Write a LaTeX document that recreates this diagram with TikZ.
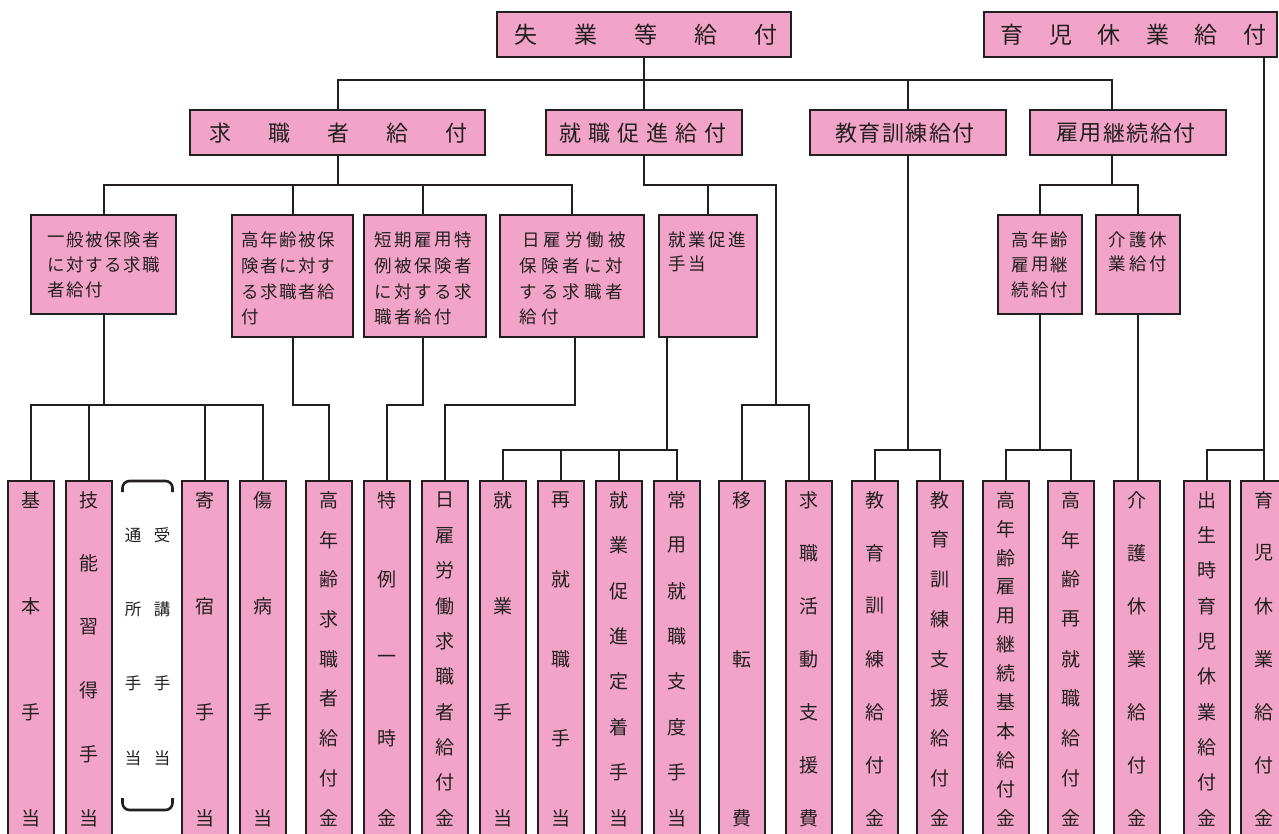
\documentclass[tikz,border=0pt]{standalone}
\usepackage{fontspec}
\setmainfont{Noto Sans CJK JP}
\usetikzlibrary{calc}
\definecolor{pk}{RGB}{242,163,200}
\definecolor{ln}{RGB}{35,31,32}
\tikzset{
 bx/.style={draw=ln,line width=2.4pt,fill=pk,inner sep=0pt,outer sep=0pt},
 cbx/.style={bx,minimum width=46pt,minimum height=364pt},
 conn/.style={draw=ln,line width=2pt},
 brk/.style={draw=ln,line width=2.6pt,rounded corners=7pt},
 t1/.style={inner sep=0pt,text=ln,font=\fontsize{23}{23}\selectfont},
 t2/.style={inner sep=0pt,text=ln,font=\fontsize{22}{22}\selectfont},
 t3/.style={inner sep=0pt,text=ln,font=\fontsize{17.5}{17.5}\selectfont},
 cch/.style={inner sep=0pt,text=ln,font=\fontsize{19}{19}\selectfont},
 bch/.style={inner sep=0pt,text=ln,font=\fontsize{16.5}{16.5}\selectfont},
}
\newcommand\mkbox[5]{\node[bx,minimum width=#4pt,minimum height=#5pt,anchor=north west] (#1) at (#2,#3) {};}
\newcommand\mkrow[6]{\foreach \c [count=\i from 0] in {#6} {\node[#2] (#1-\i) at ({#3+\i*#5},#4) {\c};}}
\newcommand\mkcol[4]{\node[cbx,anchor=north west] (#1) at (#2,481) {};\foreach \c [count=\i from 0] in {#4} {\node[cch] (#1-\i) at ({#2+23},{500+\i*318/(#3-1)}) {\c};}}
\begin{document}
\begin{tikzpicture}[x=1pt,y=-1pt]
\useasboundingbox (0,0) rectangle (1279,834);
% ---- boxes
\mkbox{sg}{497}{12}{294}{45}
\mkbox{ik}{984}{12}{293}{45}
\mkbox{kk}{190}{110}{295}{45}
\mkbox{ss}{546}{110}{196}{45}
\mkbox{kt}{810}{110}{196}{45}
\mkbox{kz}{1030}{110}{196}{45}
\mkbox{ip}{31}{215}{145}{99}
\mkbox{kn}{232}{215}{121}{122}
\mkbox{tk}{364}{215}{122}{122}
\mkbox{hy}{500}{215}{144}{122}
\mkbox{sk}{659}{215}{98}{122}
\mkbox{kk3}{998}{215}{84}{99}
\mkbox{kg}{1096}{215}{84}{99}
% ---- top / second row text
\mkrow{sgt}{t1}{526}{35}{60}{失,業,等,給,付}
\mkrow{ikt}{t1}{1012}{35}{48.5}{育,児,休,業,給,付}
\mkrow{kkt}{t2}{220}{133}{59}{求,職,者,給,付}
\mkrow{sst}{t2}{570}{133}{29}{就,職,促,進,給,付}
\mkrow{ktt}{t2}{846}{133}{23.5}{教,育,訓,練,給,付}
\mkrow{kzt}{t2}{1067}{133}{23.5}{雇,用,継,続,給,付}
% ---- third row text
\mkrow{ipa}{t3}{56.5}{240}{19}{一,般,被,保,険,者}
\mkrow{ipb}{t3}{56.5}{265}{19}{に,対,す,る,求,職}
\mkrow{ipc}{t3}{56.5}{290}{19}{者,給,付}
\mkrow{kna}{t3}{250.5}{240}{19}{高,年,齢,被,保}
\mkrow{knb}{t3}{250.5}{266}{19}{険,者,に,対,す}
\mkrow{knc}{t3}{250.5}{292}{19}{る,求,職,者,給}
\mkrow{knd}{t3}{250.5}{317}{19}{付}
\mkrow{tka}{t3}{383.5}{240}{20}{短,期,雇,用,特}
\mkrow{tkb}{t3}{383.5}{266}{20}{例,被,保,険,者}
\mkrow{tkc}{t3}{383.5}{292}{20}{に,対,す,る,求}
\mkrow{tkd}{t3}{383.5}{317}{20}{職,者,給,付}
\mkrow{hya}{t3}{531}{240}{21.5}{日,雇,労,働,被}
\mkrow{hyb}{t3}{528.5}{266}{21.5}{保,険,者,に,対}
\mkrow{hyc}{t3}{528.5}{292}{21.5}{す,る,求,職,者}
\mkrow{hyd}{t3}{528.5}{317}{21.5}{給,付}
\mkrow{ska}{t3}{677.5}{240}{20}{就,業,促,進}
\mkrow{skb}{t3}{677.5}{264}{20}{手,当}
\mkrow{k3a}{t3}{1020.5}{240}{19.5}{高,年,齢}
\mkrow{k3b}{t3}{1020.5}{265}{19.5}{雇,用,継}
\mkrow{k3c}{t3}{1020.5}{290}{19.5}{続,給,付}
\mkrow{kga}{t3}{1117.5}{240}{20.5}{介,護,休}
\mkrow{kgb}{t3}{1117.5}{264}{20.5}{業,給,付}
% ---- bottom columns
\mkcol{c1}{8}{4}{基,本,手,当}
\mkcol{c2}{66}{6}{技,能,習,得,手,当}
\mkcol{c3}{182}{4}{寄,宿,手,当}
\mkcol{c4}{240}{4}{傷,病,手,当}
\mkcol{c5}{306}{9}{高,年,齢,求,職,者,給,付,金}
\mkcol{c6}{364}{5}{特,例,一,時,金}
\mkcol{c7}{422}{10}{日,雇,労,働,求,職,者,給,付,金}
\mkcol{c8}{480}{4}{就,業,手,当}
\mkcol{c9}{538}{5}{再,就,職,手,当}
\mkcol{c10}{596}{8}{就,業,促,進,定,着,手,当}
\mkcol{c11}{654}{8}{常,用,就,職,支,度,手,当}
\mkcol{c12}{719}{3}{移,転,費}
\mkcol{c13}{786}{7}{求,職,活,動,支,援,費}
\mkcol{c14}{852}{7}{教,育,訓,練,給,付,金}
\mkcol{c15}{917}{9}{教,育,訓,練,支,援,給,付,金}
\mkcol{c16}{983}{12}{高,年,齢,雇,用,継,続,基,本,給,付,金}
\mkcol{c17}{1048}{9}{高,年,齢,再,就,職,給,付,金}
\mkcol{c18}{1114}{7}{介,護,休,業,給,付,金}
\mkcol{c19}{1184}{10}{出,生,時,育,児,休,業,給,付,金}
\mkcol{c20}{1241}{7}{育,児,休,業,給,付,金}
% ---- bracketed pair (受講手当 / 通所手当)
\draw[brk] (122.5,492) -- (122.5,481) -- (172.5,481) -- (172.5,492);
\draw[brk] (122.5,798) -- (122.5,810) -- (172.5,810) -- (172.5,798);
\foreach \c [count=\i from 0] in {通,所,手,当} {\node[bch] (ba-\i) at (133,{535+\i*74.3}) {\c};}
\foreach \c [count=\i from 0] in {受,講,手,当} {\node[bch] (bb-\i) at (162,{535+\i*74.3}) {\c};}
% ---- connectors
\coordinate (busA) at (0,80);
\coordinate (busB) at (0,185);
\coordinate (busC) at (0,405);
\coordinate (busD) at (0,450);
\coordinate (mv) at ($(c12.north)!0.5!(c13.north)$);
\draw[conn] (sg.south) -- (ss.north);
\draw[conn] (kk.north) -- (kk.north |- busA) -| ([xshift=-16pt]kz.north);
\draw[conn] (kt.north) -- (kt.north |- busA);
% 求職者給付
\draw[conn] (kk.south) -- (kk.south |- busB);
\draw[conn] (ip.north) |- (hy.north |- busB) -- (hy.north);
\draw[conn] (kn.north) -- (kn.north |- busB);
\draw[conn] ([xshift=-2pt]tk.north) -- ([xshift=-2pt]tk.north |- busB);
% 就職促進給付
\draw[conn] (ss.south) |- (mv |- busB) -- (mv |- busC);
\draw[conn] (sk.north) -- (sk.north |- busB);
% 雇用継続給付
\draw[conn] ([xshift=-16pt]kz.south) -- ([xshift=-16pt]kz.south |- busB);
\draw[conn] (kk3.north) |- (kg.north |- busB) -- (kg.north);
% level 3 -> columns
\draw[conn] (ip.south) -- (ip.south |- busC);
\draw[conn] (c1.north) |- (c4.north |- busC) -- (c4.north);
\draw[conn] (c2.north) -- (c2.north |- busC);
\draw[conn] (c3.north) -- (c3.north |- busC);
\draw[conn] (kn.south) |- (c5.north |- busC) -- (c5.north);
\draw[conn] ([xshift=-2pt]tk.south) |- (c6.north |- busC) -- (c6.north);
\draw[conn] ([xshift=3pt]hy.south) |- (c7.north |- busC) -- (c7.north);
\draw[conn] ([xshift=-41pt]sk.south) -- ([xshift=-41pt]sk.south |- busD);
\draw[conn] (c8.north) |- (c11.north |- busD) -- (c11.north);
\draw[conn] (c9.north) -- (c9.north |- busD);
\draw[conn] (c10.north) -- (c10.north |- busD);
\draw[conn] (c12.north) |- (c13.north |- busC) -- (c13.north);
\draw[conn] (kt.south) -- (kt.south |- busD);
\draw[conn] (c14.north) |- (c15.north |- busD) -- (c15.north);
\draw[conn] (kk3.south) -- (kk3.south |- busD);
\draw[conn] (c16.north) |- (c17.north |- busD) -- (c17.north);
\draw[conn] (kg.south) -- (kg.south |- c18.north);
\draw[conn] (ik.south -| c20.north) -- (c20.north);
\draw[conn] (c19.north) -- (c19.north |- busD) -- (c20.north |- busD);
\end{tikzpicture}
\end{document}
